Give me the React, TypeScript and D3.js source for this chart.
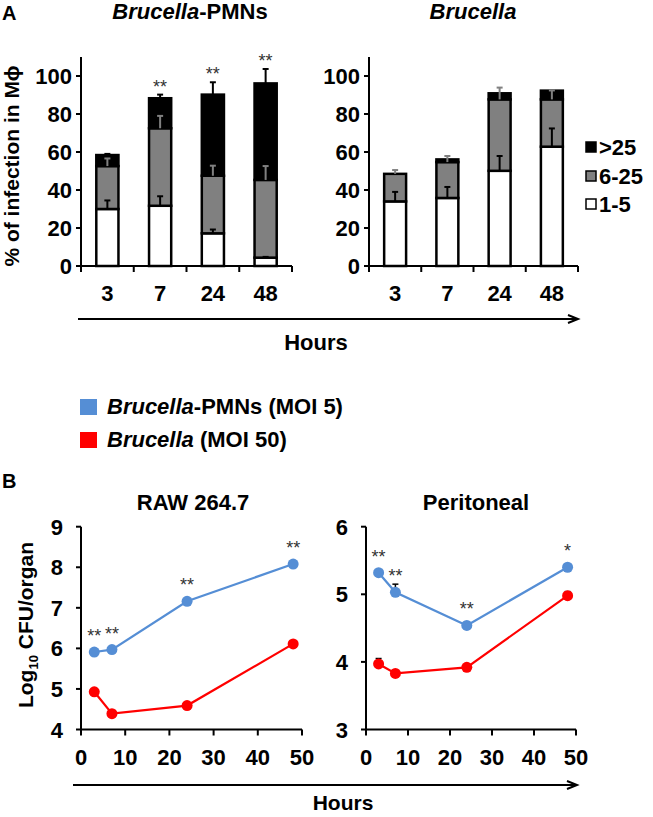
import * as d3 from "d3";

// ---- panel A: % of infected macrophages by number of bacteria per cell
const hours = ["3", "7", "24", "48"];
const bins = [">25", "6-25", "1-5"];
const binFill = ["#000000", "#808080", "#ffffff"];

const pmnLow = [30, 31.7, 17.2, 4.4];
const pmnMid = [22.6, 40.8, 30.3, 40.9];
const pmnHigh = [5.8, 15.8, 42.7, 50.8];
const pmnLowErr = [4.5, 5, 2, 0.4];
const pmnMidErr = [4, 6.5, 5.3, 7.3];
const pmnHighErr = [0.6, 1.9, 6.5, 7.6];
const pmnStars = ["", "**", "**", "**"];

const bruLow = [34, 35.8, 50.1, 62.8];
const bruMid = [14.5, 18.9, 37.6, 24.9];
const bruHigh = [0, 1.4, 3.2, 4.6];
const bruLowErr = [5, 5.8, 7.8, 9.6];
const bruMidErr = [2, 3.2, 6.2, 4.7];
const bruHighErr = [0, 0, 0, 0];
const bruStars = ["", "", "", ""];

const pctTicks = [0, 20, 40, 60, 80, 100];

// ---- panel B: log10 CFU over time
const times = [3, 7, 24, 48];
const rawPmn = [5.91, 5.97, 7.16, 8.08];
const rawBru = [4.93, 4.39, 4.59, 6.11];
const rawPmnErr = [0, 0, 0, 0];
const rawBruErr = [0, 0, 0, 0];
const rawStars = ["**", "**", "**", "**"];

const perPmn = [5.32, 5.03, 4.54, 5.4];
const perBru = [3.97, 3.83, 3.92, 4.98];
const perPmnErr = [0, 0.12, 0, 0];
const perBruErr = [0.08, 0, 0, 0.06];
const perStars = ["**", "**", "**", "*"];

const hourTicks = [0, 10, 20, 30, 40, 50];
const BLUE = "#558ed5";
const RED = "#ff0000";
const FONT = "'Liberation Sans', Arial, Helvetica, sans-serif";

function BarPanel({ left, right, low, mid, high, lowErr, midErr, highErr, stars }) {
  const x = d3.scaleBand().domain(hours).range([left, right]).paddingInner(0.58).paddingOuter(0.29);
  const y = d3.scaleLinear().domain([0, 110]).range([266, 57]);
  const bounds = d3.range(hours.length + 1).map((i) => left + i * x.step());
  const segs = hours.map((h, i) => {
    const a = low[i];
    const b = a + mid[i];
    const c = b + high[i];
    return [
      { y0: 0, y1: a, fill: binFill[2], err: lowErr[i], ec: "#000" },
      { y0: a, y1: b, fill: binFill[1], err: midErr[i], ec: "#808080" },
      { y0: b, y1: c, fill: binFill[0], err: highErr[i], ec: "#000" },
    ];
  });
  return (
    <g>
      {hours.map((h, i) =>
        segs[i]
          .filter((s) => s.y1 > s.y0)
          .map((s, j) => (
            <rect key={h + j} x={x(h)} y={y(s.y1)} width={x.bandwidth()} height={y(s.y0) - y(s.y1)}
              fill={s.fill} stroke="#000" strokeWidth={2.5} />
          ))
      )}
      {hours.map((h, i) =>
        segs[i]
          .filter((s) => s.err > 0)
          .map((s, j) => {
            const cx = x(h) + x.bandwidth() / 2;
            return (
              <g key={"e" + h + j} stroke={s.ec} strokeWidth={2}>
                <line x1={cx} x2={cx} y1={y(s.y1)} y2={y(s.y1 + s.err)} />
                <line x1={cx - 3} x2={cx + 3} y1={y(s.y1 + s.err)} y2={y(s.y1 + s.err)} />
              </g>
            );
          })
      )}
      {hours.map((h, i) => {
        const top = low[i] + mid[i] + high[i] + highErr[i];
        return (
          <text key={"s" + h} x={x(h) + x.bandwidth() / 2} y={y(top) - 2} textAnchor="middle"
            fontSize={18} fill="#333">{stars[i]}</text>
        );
      })}
      <g stroke="#000" strokeWidth={2}>
        <line x1={left} x2={left} y1={y(0)} y2={y(110)} />
        <line x1={left} x2={right} y1={y(0)} y2={y(0)} />
        {pctTicks.map((t) => (
          <line key={t} x1={left - 5} x2={left} y1={y(t)} y2={y(t)} />
        ))}
        {bounds.map((b, i) => (
          <line key={i} x1={b} x2={b} y1={y(0)} y2={y(0) + 6} />
        ))}
      </g>
      {pctTicks.map((t) => (
        <text key={t} x={left - 9} y={y(t) + 8} textAnchor="end" fontSize={22} fontWeight="bold">{t}</text>
      ))}
      {hours.map((h) => (
        <text key={h} x={x(h) + x.bandwidth() / 2} y={301} textAnchor="middle" fontSize={22} fontWeight="bold">{h}</text>
      ))}
    </g>
  );
}

function LinePanel({ left, right, yDomain, pmn, bru, pmnErr, bruErr, stars }) {
  const x = d3.scaleLinear().domain([0, 50]).range([left, right]);
  const y = d3.scaleLinear().domain(yDomain).range([729.5, 526.7]);
  const yTicks = d3.range(yDomain[0], yDomain[1] + 1);
  const line = d3.line<number>().x((_, i) => x(times[i])).y((v) => y(v));
  const series = [
    { vals: bru, err: bruErr, color: RED },
    { vals: pmn, err: pmnErr, color: BLUE },
  ];
  return (
    <g>
      <g stroke="#000" strokeWidth={2}>
        <line x1={left} x2={left} y1={y(yDomain[0])} y2={y(yDomain[1])} />
        <line x1={left} x2={right} y1={y(yDomain[0])} y2={y(yDomain[0])} />
        {yTicks.map((t) => (
          <line key={t} x1={left - 5} x2={left} y1={y(t)} y2={y(t)} />
        ))}
        {hourTicks.map((t) => (
          <line key={t} x1={x(t)} x2={x(t)} y1={y(yDomain[0])} y2={y(yDomain[0]) + 6} />
        ))}
      </g>
      {series.map((s) => (
        <g key={s.color}>
          {s.vals.map((v, i) =>
            s.err[i] > 0 ? (
              <g key={i} stroke="#000" strokeWidth={1.5}>
                <line x1={x(times[i])} x2={x(times[i])} y1={y(v)} y2={y(v + s.err[i])} />
                <line x1={x(times[i]) - 3} x2={x(times[i]) + 3} y1={y(v + s.err[i])} y2={y(v + s.err[i])} />
              </g>
            ) : null
          )}
          <path d={line(s.vals) || ""} fill="none" stroke={s.color} strokeWidth={2.2} />
          {s.vals.map((v, i) => (
            <circle key={i} cx={x(times[i])} cy={y(v)} r={5.5} fill={s.color} />
          ))}
        </g>
      ))}
      {pmn.map((v, i) => (
        <text key={i} x={x(times[i])} y={y(v) - 10} textAnchor="middle" fontSize={18} fill="#333">
          {stars[i]}
        </text>
      ))}
      {yTicks.map((t) => (
        <text key={t} x={left - 18} y={y(t) + 8} textAnchor="end" fontSize={22} fontWeight="bold">{t}</text>
      ))}
      {hourTicks.map((t) => (
        <text key={t} x={x(t)} y={765} textAnchor="middle" fontSize={22} fontWeight="bold">{t}</text>
      ))}
    </g>
  );
}

function Arrow({ x1, x2, yy }) {
  return (
    <g stroke="#000" strokeWidth={2} fill="none">
      <line x1={x1} x2={x2} y1={yy} y2={yy} />
      <polyline points={`${x2 - 10},${yy - 4} ${x2},${yy} ${x2 - 10},${yy + 4}`} />
    </g>
  );
}

export default function App() {
  const legendY = [147, 176, 204];
  return (
    <svg width={653} height={817} style={{ position: "absolute", left: 0, top: 0, background: "#fff" }}
      fontFamily={FONT}>
      {/* Panel A */}
      <text x={2} y={20} fontSize={20} fontWeight="bold">A</text>
      <text x={190} y={19} textAnchor="middle" fontSize={22} fontWeight="bold">
        <tspan fontStyle="italic">Brucella</tspan>-PMNs
      </text>
      <text x={473} y={19} textAnchor="middle" fontSize={22} fontWeight="bold" fontStyle="italic">Brucella</text>
      <text transform="translate(19,166) rotate(-90)" textAnchor="middle" fontSize={21} fontWeight="bold">
        % of infection in Mϕ
      </text>
      <BarPanel left={81} right={292} low={pmnLow} mid={pmnMid} high={pmnHigh}
        lowErr={pmnLowErr} midErr={pmnMidErr} highErr={pmnHighErr} stars={pmnStars} />
      <BarPanel left={369} right={578} low={bruLow} mid={bruMid} high={bruHigh}
        lowErr={bruLowErr} midErr={bruMidErr} highErr={bruHighErr} stars={bruStars} />
      {bins.map((b, i) => (
        <g key={b}>
          <rect x={586} y={legendY[i] - 5} width={10} height={10} fill={binFill[i]} stroke="#000" strokeWidth={1.5} />
          <text x={599} y={legendY[i] + 8} fontSize={22} fontWeight="bold">{b}</text>
        </g>
      ))}
      <Arrow x1={78} x2={578} yy={319} />
      <text x={316} y={350} textAnchor="middle" fontSize={22} fontWeight="bold">Hours</text>

      {/* legend B */}
      <rect x={80} y={399} width={17} height={16} fill={BLUE} />
      <text x={107} y={414} fontSize={22} fontWeight="bold">
        <tspan fontStyle="italic">Brucella</tspan>-PMNs (MOI 5)
      </text>
      <rect x={80} y={432} width={17} height={16} fill={RED} />
      <text x={107} y={447} fontSize={22} fontWeight="bold">
        <tspan fontStyle="italic">Brucella</tspan> (MOI 50)
      </text>

      {/* Panel B */}
      <text x={2} y={488} fontSize={20} fontWeight="bold">B</text>
      <text x={193} y={510} textAnchor="middle" fontSize={22} fontWeight="bold">RAW 264.7</text>
      <text x={476} y={510} textAnchor="middle" fontSize={22} fontWeight="bold">Peritoneal</text>
      <text transform="translate(33,625) rotate(-90)" textAnchor="middle" fontSize={21} fontWeight="bold">
        Log<tspan fontSize={13} dy={5}>10</tspan><tspan dy={-5}> CFU/organ</tspan>
      </text>
      <LinePanel left={81} right={302} yDomain={[4, 9]} pmn={rawPmn} bru={rawBru}
        pmnErr={rawPmnErr} bruErr={rawBruErr} stars={rawStars} />
      <LinePanel left={366} right={576} yDomain={[3, 6]} pmn={perPmn} bru={perBru}
        pmnErr={perPmnErr} bruErr={perBruErr} stars={perStars} />
      <Arrow x1={73} x2={577} yy={785} />
      <text x={343} y={810} textAnchor="middle" fontSize={21} fontWeight="bold">Hours</text>
    </svg>
  );
}
